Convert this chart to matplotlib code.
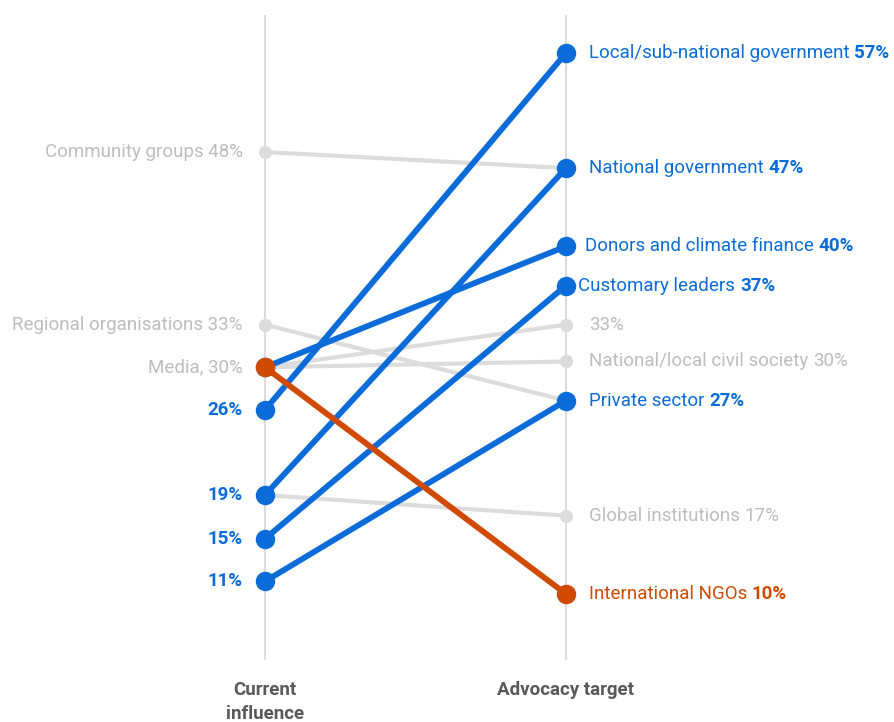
import matplotlib.pyplot as plt

# categories and values (share of respondents, %)
categories = ["Local/sub-national government", "National government", "Donors and climate finance",
              "Customary leaders", "Private sector", "International NGOs", "Community groups",
              "Regional organisations", "Media", "National/local civil society", "Global institutions"]
current = [26.0, 18.6, 29.7, 14.8, 11.1, 29.7, 48.4, 33.4, 29.7, 29.7, 18.6]
target = [57.0, 47.0, 40.2, 36.8, 26.8, 10.0, 47.0, 26.8, 33.4, 30.2, 16.8]
group = ["up", "up", "up", "up", "up", "down", "other", "other", "other", "other", "other"]

# text shown next to each end (None = no label)
left_names = ["", "", None, "", "", None, "Community groups ", "Regional organisations ", "Media, ", None, None]
right_names = ["Local/sub-national government ", "National government ", "Donors and climate finance ",
               "Customary leaders ", "Private sector ", "International NGOs ", None, None, "",
               "National/local civil society ", "Global institutions "]
axis_labels = ["Current\ninfluence", "Advocacy target"]

BLUE = "#0B6CD9"
ORANGE = "#D04A02"
GREY_LINE = "#DCDCDC"
GREY_TEXT = "#BDBDBD"
colors = {"up": BLUE, "down": ORANGE, "other": GREY_LINE}
text_colors = {"up": BLUE, "down": ORANGE, "other": GREY_TEXT}

plt.rcParams["font.family"] = ["Roboto", "DejaVu Sans"]

fig = plt.figure(figsize=(8.95, 7.22), dpi=100)
ax = fig.add_axes([0, 62 / 722, 1, 645 / 722])
ax.set_xlim(-265 / 301, 630 / 301)
px = 541 / 47  # pixels per percentage point
ax.set_ylim(10 - 66 / px, 57 + 38 / px)
ax.axis("off")

for x in (0, 1):
    ax.axvline(x, color="#D9D9D9", lw=1.3, zorder=0)

order = {"other": 1, "up": 2, "down": 3}
for i, cat in enumerate(categories):
    g = group[i]
    if g == "other":
        ax.plot([0, 1], [current[i], target[i]], color=GREY_LINE, lw=3, marker="o", ms=8.5,
                solid_capstyle="round", zorder=order[g])
    else:
        ax.plot([0, 1], [current[i], target[i]], color=colors[g], lw=4.2, marker="o", ms=13,
                solid_capstyle="round", zorder=order[g])

fs = 13.5
right_offsets = {"Donors and climate finance": 14, "Customary leaders": 9}

for i, cat in enumerate(categories):
    g = group[i]
    tc = text_colors[g]
    w = "normal" if g == "other" else "bold"
    # left side
    if left_names[i] is not None:
        if g == "other":
            ax.annotate(f"{left_names[i]}{current[i]:.0f}%", xy=(0, current[i]),
                        xytext=(-16, 0), textcoords="offset points",
                        ha="right", va="center", fontsize=fs, color=tc)
        else:
            ax.annotate(f"{current[i]:.0f}%", xy=(0, current[i]),
                        xytext=(-16, 0), textcoords="offset points",
                        ha="right", va="center", fontsize=fs, color=tc, fontweight="bold")
    # right side
    if right_names[i] is not None:
        off = right_offsets.get(cat, 16.5)
        if right_names[i] == "":
            ax.annotate(f"{target[i]:.0f}%", xy=(1, target[i]), xytext=(off, 0),
                        textcoords="offset points", ha="left", va="center",
                        fontsize=fs, color=tc, fontweight=w)
            continue
        t = ax.annotate(right_names[i], xy=(1, target[i]), xytext=(off, 0),
                        textcoords="offset points", ha="left", va="center",
                        fontsize=fs, color=tc)
        ax.annotate(f"{target[i]:.0f}%", xy=(1, 0), xycoords=t, xytext=(0, 0),
                    textcoords="offset points", ha="left", va="bottom",
                    fontsize=fs, color=tc, fontweight=w)

for x, lab in zip((0, 1), axis_labels):
    ax.annotate(lab, xy=(x, 0), xycoords=ax.get_xaxis_transform(), xytext=(0, -15),
                textcoords="offset points", ha="center", va="top", fontsize=13.5,
                fontweight="bold", color="#595959", linespacing=1.45, annotation_clip=False)

fig.savefig("out.png", dpi=100)
